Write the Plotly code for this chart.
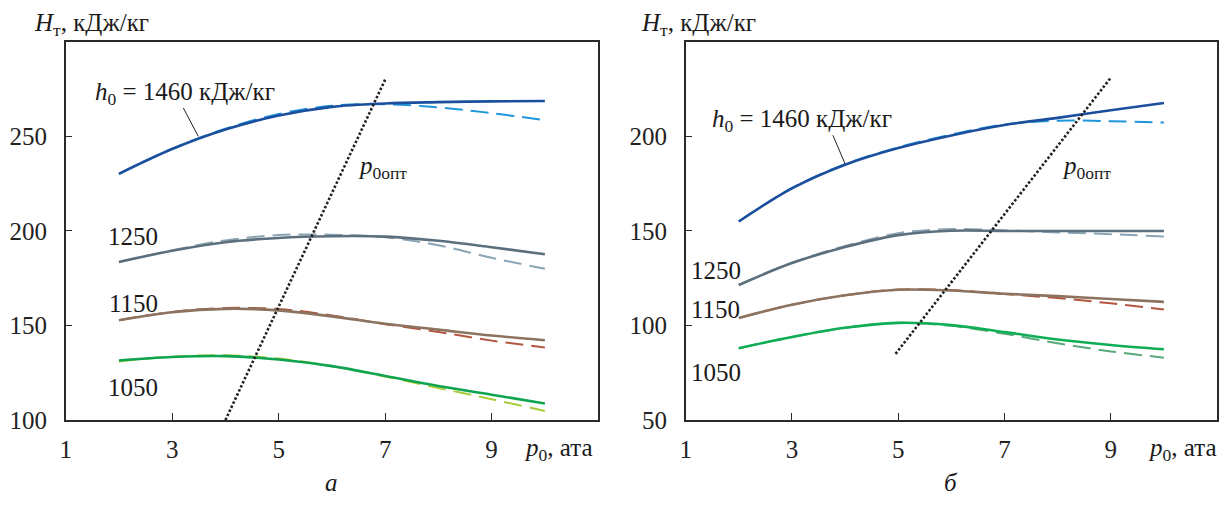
import plotly.graph_objects as go

W, H = 1228, 506

# ---------------- data ----------------
p0 = [2, 3, 4, 5, 6, 7, 8, 9, 10]

# panel a
a_1460_solid = [230.2, 243.3, 253.6, 261.0, 265.6, 267.4, 268.1, 268.5, 268.7]
a_1460_dash = [230.2, 243.5, 254.0, 261.8, 266.2, 267.0, 265.3, 262.3, 258.5]
a_1250_solid = [183.6, 189.5, 194.0, 196.3, 197.2, 197.0, 194.8, 191.4, 187.7]
a_1250_dash = [183.6, 189.8, 195.0, 197.8, 198.0, 196.7, 192.4, 185.8, 180.0]
a_1150_solid = [152.8, 157.0, 158.8, 158.0, 154.8, 150.9, 147.8, 144.7, 142.2]
a_1150_dash = [152.8, 157.2, 159.2, 158.7, 155.3, 150.7, 146.6, 142.0, 138.4]
a_1050_solid = [131.5, 133.3, 133.8, 132.0, 128.5, 123.3, 118.0, 113.4, 108.7]
a_1050_dash = [131.0, 133.5, 134.2, 132.5, 128.5, 123.0, 117.0, 111.0, 104.8]
a_opt_x = [4.0, 7.0]
a_opt_y = [100, 280]

# panel b
b_1460_solid = [155.0, 172.5, 185.0, 193.8, 200.5, 206.0, 209.8, 213.8, 217.6]
b_1460_dash = [155.0, 172.7, 185.3, 194.2, 201.0, 206.3, 208.3, 208.0, 207.3]
b_1250_solid = [121.4, 133.0, 141.5, 147.8, 150.1, 150.0, 150.0, 150.0, 150.0]
b_1250_dash = [121.4, 133.2, 142.0, 148.8, 151.0, 150.3, 149.2, 148.3, 147.0]
b_1150_solid = [104.0, 111.0, 116.0, 118.9, 118.5, 116.8, 115.5, 114.0, 112.5]
b_1150_dash = [104.0, 111.0, 116.0, 119.0, 118.7, 116.6, 114.5, 111.7, 108.4]
b_1050_solid = [88.0, 93.9, 98.8, 101.4, 100.2, 96.5, 92.6, 89.7, 87.4]
b_1050_dash = [88.0, 93.9, 98.8, 101.4, 99.8, 95.6, 90.6, 86.3, 83.0]
b_opt_x = [4.95, 9.0]
b_opt_y = [85, 231]

x_ticks = [1, 3, 5, 7, 9]
a_y_ticks = [100, 150, 200, 250]
b_y_ticks = [50, 100, 150, 200]
h0_labels = ["1250", "1150", "1050"]

FONT = "Liberation Serif, Times New Roman, serif"
FS = 25
DARK = "#2a2a2a"

fig = go.Figure()


def add_curve(x, y, color, dashed, xa, ya):
    fig.add_trace(go.Scatter(
        x=x, y=y, mode="lines", xaxis=xa, yaxis=ya, showlegend=False,
        hoverinfo="skip",
        line=dict(color=color, width=2.0 if dashed else 2.6,
                  dash="18px,8px" if dashed else "solid",
                  shape="spline", smoothing=1.0)))


# panel a traces
add_curve(p0, a_1460_dash, "#1e96dc", True, "x", "y")
add_curve(p0, a_1460_solid, "#1b4f9e", False, "x", "y")
add_curve(p0, a_1250_dash, "#8ba5b5", True, "x", "y")
add_curve(p0, a_1250_solid, "#5b6f7c", False, "x", "y")
add_curve(p0, a_1150_dash, "#b3553f", True, "x", "y")
add_curve(p0, a_1150_solid, "#8c735f", False, "x", "y")
add_curve(p0, a_1050_dash, "#a9cd3a", True, "x", "y")
add_curve(p0, a_1050_solid, "#0ea44f", False, "x", "y")

# panel b traces
add_curve(p0, b_1460_dash, "#1e96dc", True, "x2", "y2")
add_curve(p0, b_1460_solid, "#1b4f9e", False, "x2", "y2")
add_curve(p0, b_1250_dash, "#8ba5b5", True, "x2", "y2")
add_curve(p0, b_1250_solid, "#5b6f7c", False, "x2", "y2")
add_curve(p0, b_1150_dash, "#b3553f", True, "x2", "y2")
add_curve(p0, b_1150_solid, "#8c735f", False, "x2", "y2")
add_curve(p0, b_1050_dash, "#5aa97a", True, "x2", "y2")
add_curve(p0, b_1050_solid, "#0fae55", False, "x2", "y2")

for ox, oy, xa, ya in [(a_opt_x, a_opt_y, "x", "y"), (b_opt_x, b_opt_y, "x2", "y2")]:
    fig.add_trace(go.Scatter(
        x=ox, y=oy, mode="lines", xaxis=xa, yaxis=ya, showlegend=False,
        hoverinfo="skip",
        line=dict(color="#222222", width=2.6, dash="2.5px,2px")))


def px_x(px):
    return px / W


def px_y(py):
    return 1 - py / H


axis_common = dict(
    showline=True, linecolor=DARK, linewidth=1.5, mirror=True,
    ticks="inside", ticklen=7, tickwidth=1.2, tickcolor=DARK,
    showgrid=False, zeroline=False,
    tickfont=dict(family=FONT, size=FS, color="#222"),
)

ydom = [px_y(432), px_y(43)]

fig.update_layout(
    width=W, height=H,
    margin=dict(l=0, r=0, t=0, b=0),
    paper_bgcolor="white", plot_bgcolor="white",
    font=dict(family=FONT, size=FS, color="#1a1a1a"),
    xaxis=dict(domain=[px_x(60), px_x(595)], range=[1, 11], tickvals=x_ticks,
               anchor="y", ticklabelstandoff=6, **axis_common),
    yaxis=dict(domain=ydom, range=[100, 300], tickvals=a_y_ticks,
               anchor="x", ticklabelstandoff=12, **axis_common),
    xaxis2=dict(domain=[px_x(683), px_x(1217)], range=[1, 11], tickvals=x_ticks,
                anchor="y2", ticklabelstandoff=6, **axis_common),
    yaxis2=dict(domain=ydom, range=[50, 250], tickvals=b_y_ticks,
                anchor="x2", ticklabelstandoff=12, **axis_common),
)

tfont = dict(family=FONT, size=FS, color="#1a1a1a")
ann = []


def add_ann(x, y, text, xref, yref):
    ann.append(dict(x=x, y=y, xref=xref, yref=yref, xanchor="center",
                    yanchor="middle", showarrow=False, text=text, font=tfont))


# axis titles / captions (paper coords)
for xc in (86, 696):
    add_ann(px_x(xc), px_y(25), "<i>H</i><sub>т</sub>, кДж/кг", "paper", "paper")
for xc in (555, 1182):
    add_ann(px_x(xc), px_y(462), "<i>p</i><sub>0</sub>, ата", "paper", "paper")
for xc, t in ((327, "а"), (950, "б")):
    add_ann(px_x(xc), px_y(496), "<i>%s</i>" % t, "paper", "paper")

# in-plot labels (data coords)
add_ann(3.25, 272.5, "<i>h</i><sub>0</sub> = 1460 кДж/кг", "x", "y")
add_ann(3.19, 208.5, "<i>h</i><sub>0</sub> = 1460 кДж/кг", "x2", "y2")
add_ann(6.95, 233.5, "<i>p</i><sub>0опт</sub>", "x", "y")
add_ann(8.55, 183.5, "<i>p</i><sub>0опт</sub>", "x2", "y2")

for lab, yv in zip(h0_labels, [197.2, 161.8, 117.0]):
    add_ann(2.27, yv, lab, "x", "y")
for lab, yv in zip(h0_labels, [129.0, 108.5, 75.0]):
    add_ann(1.57, yv, lab, "x2", "y2")

fig.update_layout(annotations=ann)

# leader lines
fig.add_shape(type="line", xref="x", yref="y", x0=3.21, y0=265, x1=3.49, y1=250.0,
              line=dict(color="#222", width=1))
fig.add_shape(type="line", xref="x2", yref="y2", x0=3.77, y0=200.6, x1=4.0, y1=185.5,
              line=dict(color="#222", width=1))

fig.write_html("out.html")
